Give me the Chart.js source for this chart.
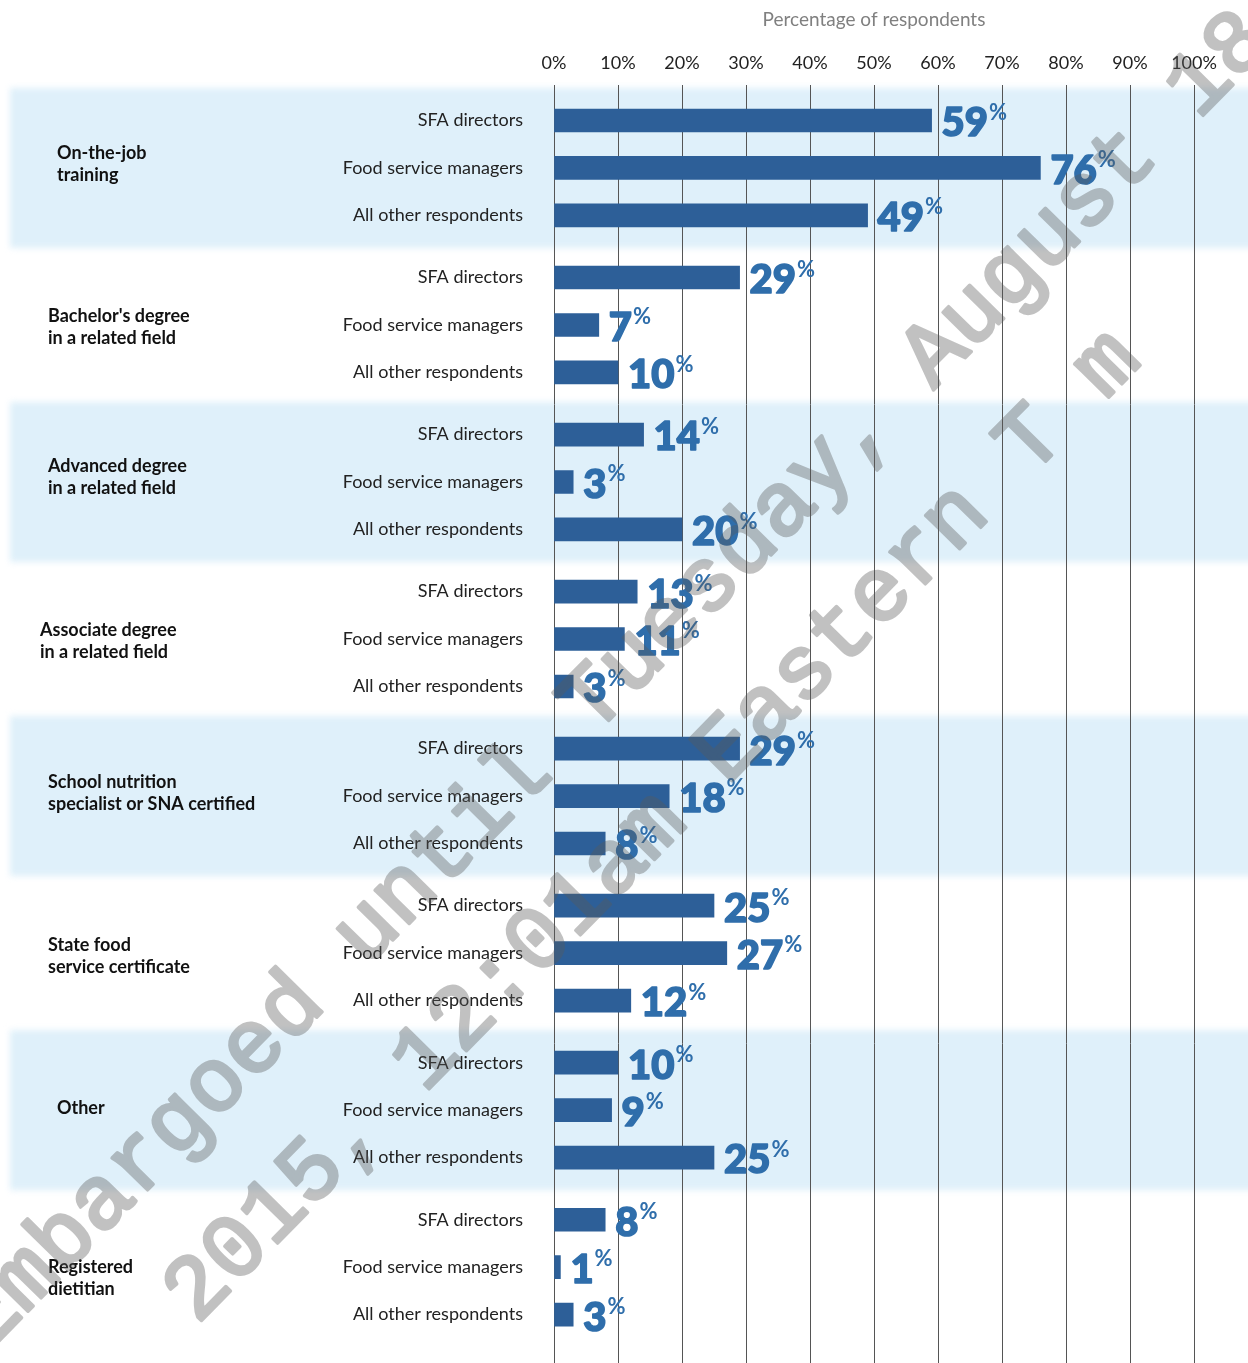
<!DOCTYPE html>
<html lang="en">
<head>
  <meta charset="UTF-8">
  <title>Training and credentials of respondents</title>
  <script src="https://cdn.jsdelivr.net/npm/chart.js"></script>
  <style>
    html, body { margin: 0; padding: 0; background: #fff; }
    #wrap { width: 1248px; height: 1363px; position: relative; }
  </style>
</head>
<body>
  <div id="wrap"><canvas id="trainingChart"></canvas></div>

  <script>
    // Categories (one per band) and the three respondent rows inside each
    const groupLabels = [
      ['On-the-job', 'training'],
      ["Bachelor's degree", 'in a related field'],
      ['Advanced degree', 'in a related field'],
      ['Associate degree', 'in a related field'],
      ['School nutrition', 'specialist or SNA certified'],
      ['State food', 'service certificate'],
      ['Other'],
      ['Registered', 'dietitian']
    ];
    const respondentTypes = ['SFA directors', 'Food service managers', 'All other respondents'];

    // Percentages, same order as groupLabels
    const sfaDirectors        = [59, 29, 14, 13, 29, 25, 10, 8];
    const foodServiceManagers = [76,  7,  3, 11, 18, 27,  9, 1];
    const allOtherRespondents = [49, 10, 20,  3,  8, 12, 25, 3];

    const xTicks = [0, 10, 20, 30, 40, 50, 60, 70, 80, 90, 100];
    const axisTitle = 'Percentage of respondents';
    const watermarkLines = ['Embargoed until Tuesday, August 18', '2015, 12:01am Eastern T m'];

    // layout helpers
    const groupStep = 3.31;
    const rowPos = (g, k) => g * groupStep + k;
    const groupLabelX = [57, 48, 48, 40, 48, 48, 57, 48];
    const groupLabelDy = [-4, 2, -5, 2, -3, 3, -2, 11];

    const series = [sfaDirectors, foodServiceManagers, allOtherRespondents];
    const rowTicks = [];
    groupLabels.forEach((_, g) => respondentTypes.forEach((_, k) => rowTicks.push(rowPos(g, k))));

    const datasets = series.map((vals, k) => ({
      label: respondentTypes[k],
      data: vals.map((v, g) => ({ x: v, y: rowPos(g, k) })),
      backgroundColor: '#2d5f98',
      barThickness: 23,
      grouped: false
    }));

    // white page + light blue bands behind every other group
    const bands = {
      id: 'bands',
      beforeDraw(chart) {
        const ctx = chart.ctx;
        const y = chart.scales.y;
        ctx.save();
        ctx.fillStyle = '#fff';
        ctx.fillRect(0, 0, chart.width, chart.height);
        ctx.filter = 'blur(3px)';
        ctx.fillStyle = '#dff0fa';
        groupLabels.forEach((_, g) => {
          if (g % 2) return;
          const mid = y.getPixelForValue(rowPos(g, 1));
          ctx.fillRect(10, mid - 80, chart.width, 160);
        });
        ctx.restore();
      }
    };

    const valueLabels = {
      id: 'valueLabels',
      afterDatasetsDraw(chart) {
        const ctx = chart.ctx;
        ctx.save();
        ctx.fillStyle = '#2f6eab';
        ctx.strokeStyle = '#2f6eab';
        ctx.lineWidth = 1.6;
        ctx.lineJoin = 'round';
        ctx.textAlign = 'left';
        chart.data.datasets.forEach((ds, i) => {
          chart.getDatasetMeta(i).data.forEach((bar, j) => {
            const txt = String(ds.data[j].x);
            const x0 = bar.x + 10;
            ctx.font = '900 40px Lato';
            ctx.textBaseline = 'middle';
            ctx.fillText(txt, x0, bar.y + 3);
            ctx.strokeText(txt, x0, bar.y + 3);
            const w = ctx.measureText(txt).width;
            ctx.font = 'bold 22px Lato';
            ctx.textBaseline = 'top';
            ctx.fillText('%', x0 + w + 1, bar.y - 19);
          });
        });
        ctx.restore();
      }
    };

    const groupText = {
      id: 'groupText',
      afterDraw(chart) {
        const ctx = chart.ctx;
        const y = chart.scales.y;
        ctx.save();
        ctx.font = 'bold 18px Lato';
        ctx.fillStyle = '#111';
        ctx.textAlign = 'left';
        ctx.textBaseline = 'middle';
        groupLabels.forEach((lines, g) => {
          const mid = y.getPixelForValue(rowPos(g, 1)) + groupLabelDy[g];
          lines.forEach((line, i) => {
            ctx.fillText(line, groupLabelX[g], mid + (i - (lines.length - 1) / 2) * 22.5);
          });
        });
        ctx.restore();
      }
    };

    // diagonal embargo stamp, drawn opaque off-screen then laid over at low alpha
    const watermark = {
      id: 'watermark',
      afterDraw(chart) {
        const off = document.createElement('canvas');
        off.width = chart.width;
        off.height = chart.height;
        const o = off.getContext('2d');
        const ang = -45.5 * Math.PI / 180;
        const starts = [[-13, 1353], [197, 1325]];
        o.font = '90px "Liberation Mono"';
        o.fillStyle = '#5a5a5a';
        o.strokeStyle = '#5a5a5a';
        o.lineWidth = 3.5;
        o.lineJoin = 'round';
        watermarkLines.forEach((line, i) => {
          o.save();
          o.translate(starts[i][0], starts[i][1]);
          o.rotate(ang);
          o.fillText(line, 0, 0);
          o.strokeText(line, 0, 0);
          o.restore();
        });
        const ctx = chart.ctx;
        ctx.save();
        ctx.globalAlpha = 0.37;
        ctx.drawImage(off, 0, 0, chart.width, chart.height);
        ctx.restore();
      }
    };

    new Chart(document.getElementById('trainingChart'), {
      type: 'bar',
      data: { datasets },
      options: {
        indexAxis: 'y',
        responsive: true,
        maintainAspectRatio: false,
        animation: false,
        layout: { padding: { left: 0, right: 54, top: 0, bottom: 0 } },
        plugins: { legend: { display: false }, tooltip: { enabled: false } },
        scales: {
          x: {
            type: 'linear',
            position: 'top',
            min: 0,
            max: 100,
            afterBuildTicks: (scale) => { scale.ticks = xTicks.map(v => ({ value: v })); },
            ticks: {
              callback: v => v + '%',
              font: { family: 'Lato', size: 18 },
              color: '#222',
              padding: 11,
              maxRotation: 0,
              autoSkip: false
            },
            grid: { color: '#555', lineWidth: 1, drawTicks: false },
            border: { display: false },
            title: {
              display: true,
              text: axisTitle,
              font: { family: 'Lato', size: 19 },
              color: '#808080',
              padding: { top: 8, bottom: 11 }
            }
          },
          y: {
            type: 'linear',
            reverse: true,
            offset: false,
            min: -0.74,
            max: 26.19,
            afterBuildTicks: (scale) => { scale.ticks = rowTicks.map(v => ({ value: v })); },
            afterFit: (scale) => {
              scale.width = 554;
              // row labels sit well inside the plot, so no extra end padding is needed
              scale.paddingTop = 0;
              scale.paddingBottom = 0;
            },
            ticks: {
              callback: (v, i) => respondentTypes[i % 3],
              font: { family: 'Lato', size: 18 },
              color: '#222',
              padding: 31,
              autoSkip: false
            },
            grid: { display: false, drawTicks: false },
            border: { display: false }
          }
        }
      },
      plugins: [bands, valueLabels, groupText, watermark]
    });
  </script>
</body>
</html>
